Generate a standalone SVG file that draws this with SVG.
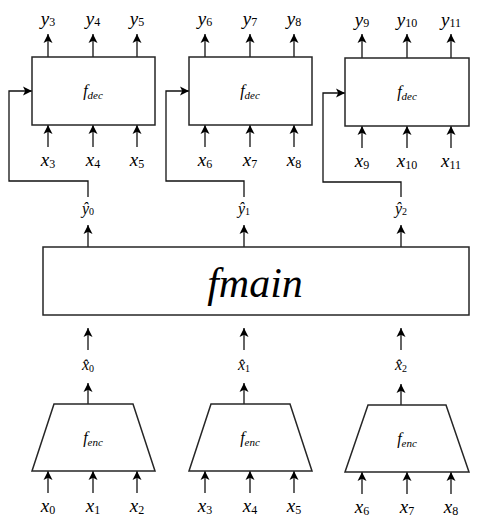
<svg xmlns="http://www.w3.org/2000/svg" width="498" height="531" viewBox="0 0 498 531">
<style>
.box{fill:#fff;stroke:#262626;stroke-width:1.5}
.ln{fill:none;stroke:#111;stroke-width:1.3;marker-end:url(#ah)}
</style>
<defs>
<marker id="ah" markerUnits="userSpaceOnUse" markerWidth="10" markerHeight="10" refX="9" refY="4.5" orient="auto" viewBox="0 0 10 9">
<path d="M9,4.5 L0,0 L2.2,4.5 L0,9 Z" fill="#000"/>
</marker>
</defs>
<rect width="498" height="531" fill="#fff"/>

<g id="connectors">
<path class="ln" d="M48,57V34"/><path class="ln" d="M93,57V34"/><path class="ln" d="M137,57V34"/>
<path class="ln" d="M205,57V34"/><path class="ln" d="M250,57V34"/><path class="ln" d="M294,57V34"/>
<path class="ln" d="M362,58V34"/><path class="ln" d="M407,58V34"/><path class="ln" d="M451,58V34"/>
<path class="ln" d="M48,147V125"/><path class="ln" d="M93,147V125"/><path class="ln" d="M137,147V125"/>
<path class="ln" d="M205,147V125"/><path class="ln" d="M250,147V125"/><path class="ln" d="M294,147V125"/>
<path class="ln" d="M362,148V126"/><path class="ln" d="M407,148V126"/><path class="ln" d="M451,148V126"/>
<path class="ln" d="M88,197V181H9V91H32"/>
<path class="ln" d="M244,197V181H166V91H189"/>
<path class="ln" d="M401,197V182H323V93H345"/>
<path class="ln" d="M88,247V225"/><path class="ln" d="M244,247V225"/><path class="ln" d="M401,247V225"/>
<path class="ln" d="M88,350V328"/><path class="ln" d="M244,350V328"/><path class="ln" d="M401,350V328"/>
<path class="ln" d="M88,404V383"/><path class="ln" d="M244,404V383"/><path class="ln" d="M401,405V384"/>
<path class="ln" d="M48,493V471"/><path class="ln" d="M93,493V471"/><path class="ln" d="M137,493V471"/>
<path class="ln" d="M205,493V471"/><path class="ln" d="M250,493V471"/><path class="ln" d="M294,493V471"/>
<path class="ln" d="M362,494V472"/><path class="ln" d="M407,494V472"/><path class="ln" d="M451,494V472"/>
</g>

<g id="dec1"><rect class="box" x="32" y="57" width="123" height="68"/><text font-family="Liberation Serif" font-style="italic" text-anchor="middle" font-size="16" x="93" y="96">f<tspan font-size="11" dy="3">dec</tspan></text></g>
<g id="dec2"><rect class="box" x="189" y="57" width="123" height="68"/><text font-family="Liberation Serif" font-style="italic" text-anchor="middle" font-size="16" x="250" y="96">f<tspan font-size="11" dy="3">dec</tspan></text></g>
<g id="dec3"><rect class="box" x="345" y="58" width="124" height="68"/><text font-family="Liberation Serif" font-style="italic" text-anchor="middle" font-size="16" x="407" y="97">f<tspan font-size="11" dy="3">dec</tspan></text></g>
<g id="main"><rect class="box" x="43" y="247" width="426" height="68"/><text font-family="Liberation Serif" font-style="italic" text-anchor="middle" font-size="42" x="255" y="297">fmain</text></g>
<g id="enc1"><path class="box" d="M54,404H133L155,471H32Z"/><text font-family="Liberation Serif" font-style="italic" text-anchor="middle" font-size="16" x="93" y="443">f<tspan font-size="11" dy="3">enc</tspan></text></g>
<g id="enc2"><path class="box" d="M211,404H290L312,471H189Z"/><text font-family="Liberation Serif" font-style="italic" text-anchor="middle" font-size="16" x="250" y="443">f<tspan font-size="11" dy="3">enc</tspan></text></g>
<g id="enc3"><path class="box" d="M368,405H446L469,472H345Z"/><text font-family="Liberation Serif" font-style="italic" text-anchor="middle" font-size="16" x="407" y="444">f<tspan font-size="11" dy="3">enc</tspan></text></g>

<g id="labels" font-family="Liberation Serif" font-style="italic" text-anchor="middle" font-size="19">
<text font-family="Liberation Serif" x="48" y="25">y<tspan font-style="normal" font-size="12" dy="1">3</tspan></text>
<text font-family="Liberation Serif" x="93" y="25">y<tspan font-style="normal" font-size="12" dy="1">4</tspan></text>
<text font-family="Liberation Serif" x="137" y="25">y<tspan font-style="normal" font-size="12" dy="1">5</tspan></text>
<text font-family="Liberation Serif" x="205" y="25">y<tspan font-style="normal" font-size="12" dy="1">6</tspan></text>
<text font-family="Liberation Serif" x="250" y="25">y<tspan font-style="normal" font-size="12" dy="1">7</tspan></text>
<text font-family="Liberation Serif" x="294" y="25">y<tspan font-style="normal" font-size="12" dy="1">8</tspan></text>
<text font-family="Liberation Serif" x="362" y="26">y<tspan font-style="normal" font-size="12" dy="1">9</tspan></text>
<text font-family="Liberation Serif" x="407" y="26">y<tspan font-style="normal" font-size="12" dy="1">10</tspan></text>
<text font-family="Liberation Serif" x="451" y="26">y<tspan font-style="normal" font-size="12" dy="1">11</tspan></text>
<text font-family="Liberation Serif" x="48" y="166">x<tspan font-style="normal" font-size="12" dy="2">3</tspan></text>
<text font-family="Liberation Serif" x="93" y="166">x<tspan font-style="normal" font-size="12" dy="2">4</tspan></text>
<text font-family="Liberation Serif" x="137" y="166">x<tspan font-style="normal" font-size="12" dy="2">5</tspan></text>
<text font-family="Liberation Serif" x="205" y="166">x<tspan font-style="normal" font-size="12" dy="2">6</tspan></text>
<text font-family="Liberation Serif" x="250" y="166">x<tspan font-style="normal" font-size="12" dy="2">7</tspan></text>
<text font-family="Liberation Serif" x="294" y="166">x<tspan font-style="normal" font-size="12" dy="2">8</tspan></text>
<text font-family="Liberation Serif" x="362" y="167">x<tspan font-style="normal" font-size="12" dy="2">9</tspan></text>
<text font-family="Liberation Serif" x="407" y="167">x<tspan font-style="normal" font-size="12" dy="2">10</tspan></text>
<text font-family="Liberation Serif" x="451" y="167">x<tspan font-style="normal" font-size="12" dy="2">11</tspan></text>
<text font-family="Liberation Serif" font-size="16" x="88" y="214">ŷ<tspan font-style="normal" font-size="10" dy="1">0</tspan></text>
<text font-family="Liberation Serif" font-size="16" x="244" y="214">ŷ<tspan font-style="normal" font-size="10" dy="1">1</tspan></text>
<text font-family="Liberation Serif" font-size="16" x="401" y="214">ŷ<tspan font-style="normal" font-size="10" dy="1">2</tspan></text>
<text font-family="Liberation Serif" font-size="16" x="88" y="370">x̂<tspan font-style="normal" font-size="10" dy="2">0</tspan></text>
<text font-family="Liberation Serif" font-size="16" x="244" y="370">x̂<tspan font-style="normal" font-size="10" dy="2">1</tspan></text>
<text font-family="Liberation Serif" font-size="16" x="401" y="370">x̂<tspan font-style="normal" font-size="10" dy="2">2</tspan></text>
<text font-family="Liberation Serif" x="48" y="512">x<tspan font-style="normal" font-size="12" dy="2">0</tspan></text>
<text font-family="Liberation Serif" x="93" y="512">x<tspan font-style="normal" font-size="12" dy="2">1</tspan></text>
<text font-family="Liberation Serif" x="137" y="512">x<tspan font-style="normal" font-size="12" dy="2">2</tspan></text>
<text font-family="Liberation Serif" x="205" y="512">x<tspan font-style="normal" font-size="12" dy="2">3</tspan></text>
<text font-family="Liberation Serif" x="250" y="512">x<tspan font-style="normal" font-size="12" dy="2">4</tspan></text>
<text font-family="Liberation Serif" x="294" y="512">x<tspan font-style="normal" font-size="12" dy="2">5</tspan></text>
<text font-family="Liberation Serif" x="362" y="513">x<tspan font-style="normal" font-size="12" dy="2">6</tspan></text>
<text font-family="Liberation Serif" x="407" y="513">x<tspan font-style="normal" font-size="12" dy="2">7</tspan></text>
<text font-family="Liberation Serif" x="451" y="513">x<tspan font-style="normal" font-size="12" dy="2">8</tspan></text>
</g>
</svg>
